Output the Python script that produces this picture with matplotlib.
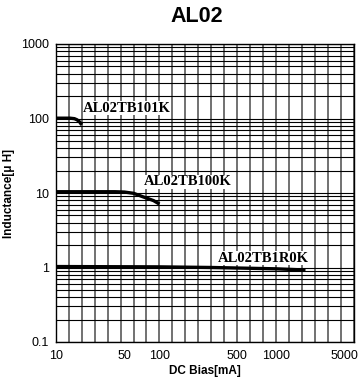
import numpy as np
import matplotlib
matplotlib.use("Agg")
import matplotlib.pyplot as plt
from matplotlib.ticker import FixedLocator, FixedFormatter, LogLocator, NullFormatter

# ---- data ----
title = "AL02"
xlabel = "DC Bias[mA]"
ylabel = "Inductance[\u03bc H]"
xtick_values = [10, 50, 100, 500, 1000, 5000]
xtick_labels = ["10", "50", "100", "500", "1000", "5000"]
ytick_values = [0.1, 1, 10, 100, 1000]
ytick_labels = ["0.1", "1", "10", "100", "1000"]

s101_name = "AL02TB101K"
s101_x = [10, 14, 15.5, 16.5, 17.5, 18.4]
s101_y = [101, 101, 99.5, 96, 90, 82]

s100_name = "AL02TB100K"
s100_x = [10, 40, 50, 60, 72, 80, 89, 100]
s100_y = [10.4, 10.4, 10.3, 9.9, 8.9, 8.4, 7.9, 7.1]

s1r0_name = "AL02TB1R0K"
s1r0_x = [10, 100, 300, 1000, 2000]
s1r0_y = [1.03, 1.02, 1.0, 0.96, 0.925]

# ---- custom (hand-drawn chart) x scale: piecewise log mapping ----
knot_vals = np.array([1, 10, 50, 100, 500, 1000, 5000, 100000], dtype=float)
knot_units = np.array([-7.58, 0, 5.3, 8.0, 14.0, 17.0, 22.25, 22.25 + 7.5 * np.log10(20)])
knot_logs = np.log10(knot_vals)

def fwd(x):
    x = np.asarray(x, dtype=float)
    lx = np.log10(np.clip(x, 1e-9, None))
    return np.interp(lx, knot_logs, knot_units)

def inv(u):
    u = np.asarray(u, dtype=float)
    return 10 ** np.interp(u, knot_units, knot_logs)

fig = plt.figure(figsize=(3.64, 3.80), dpi=100)
ax = fig.add_axes([55.7 / 364, 1 - 342 / 380, (354 - 55.7) / 364, (342 - 44) / 380])

ax.set_xscale("function", functions=(fwd, inv))
ax.set_yscale("log")
ax.set_xlim(10, float(inv(23)))
ax.set_ylim(0.1, 1000)

# grid
grid_x = inv(np.arange(0, 24))
for gx in grid_x:
    ax.axvline(gx, color="#4a4a4a", lw=1.1, zorder=1)
ax.yaxis.set_minor_locator(LogLocator(base=10, subs=np.arange(2, 10)))
ax.yaxis.set_minor_formatter(NullFormatter())
ax.grid(True, which="both", axis="y", color="black", lw=0.8, zorder=1)

ax.xaxis.set_major_locator(FixedLocator(xtick_values))
ax.xaxis.set_major_formatter(FixedFormatter(xtick_labels))
ax.xaxis.set_minor_locator(FixedLocator([]))
ax.yaxis.set_major_locator(FixedLocator(ytick_values))
ax.yaxis.set_major_formatter(FixedFormatter(ytick_labels))
ax.tick_params(which="both", length=0)
ax.tick_params(axis="x", pad=6, labelsize=9)
ax.tick_params(axis="y", pad=5, labelsize=9)
for lab in ax.get_xticklabels() + ax.get_yticklabels():
    lab.set_fontfamily("Liberation Sans")
for sp in ax.spines.values():
    sp.set_color("black")
    sp.set_linewidth(1.0)

# curves
for xs, ys in [(s101_x, s101_y), (s100_x, s100_y), (s1r0_x, s1r0_y)]:
    ax.plot(xs, ys, color="black", lw=2.4, solid_capstyle="butt", zorder=4)

serif = dict(fontfamily="Liberation Serif", fontweight="bold", fontsize=10.5,
             ha="left", va="center", zorder=5,
             bbox=dict(facecolor="white", edgecolor="none", pad=0.3))
ax.text(19, 137, s101_name, **serif)
ax.text(73.5, 14.2, s100_name, **serif)
ax.text(334, 1.34, s1r0_name, **serif)

fig.text(197 / 364, 1 - 17 / 380, title, fontfamily="Liberation Sans", fontweight="bold",
         fontsize=15.5, ha="center", va="center")
ax.set_xlabel(xlabel, fontfamily="Liberation Sans", fontweight="bold", fontsize=8.5, labelpad=2)
ax.set_ylabel(ylabel, fontfamily="Liberation Sans", fontweight="bold", fontsize=8.5, labelpad=4)

fig.savefig("out.png", dpi=100)
